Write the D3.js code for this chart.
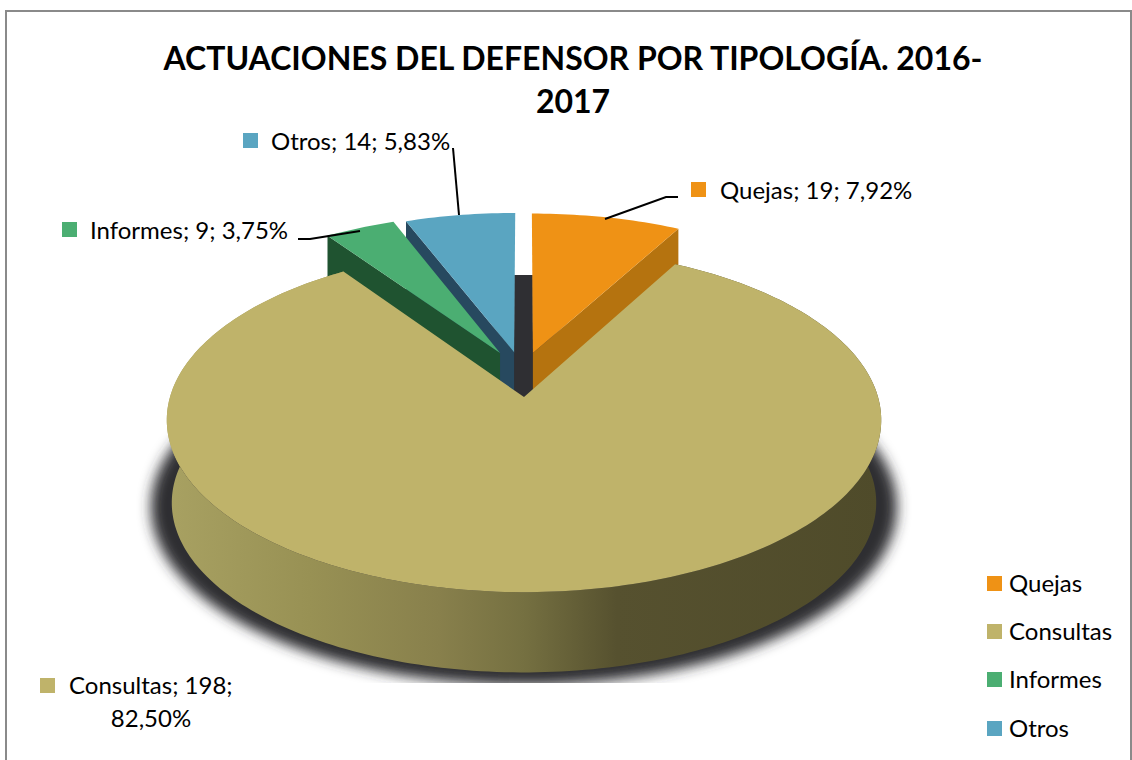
<!DOCTYPE html>
<html lang="es">
<head>
<meta charset="utf-8">
<script src="https://cdn.jsdelivr.net/npm/d3@7/dist/d3.min.js"></script>
<style>
html,body{margin:0;padding:0;background:#fff;overflow:hidden}
svg{display:block}
text{font-family:Lato,"Open Sans",sans-serif;fill:#000}
</style>
</head>
<body>
<svg id="chart" width="1132" height="760"></svg>
<script>
// ---- data ----
const categories = ["Quejas", "Consultas", "Informes", "Otros"];
const values = [19, 198, 9, 14];
const titleLines = ["ACTUACIONES DEL DEFENSOR POR TIPOLOGÍA. 2016-", "2017"];
// ---- styling ----
const topColors = ["#ef9215", "#bfb36a", "#4bae72", "#5aa5c1"];
const wallColors = ["#b5730f", "#8f8850", "#1f5330", "#27495f"];
const explodeU = [0.026, 0, -0.07, -0.029];
const explodeV = [0.27, 0, 0.27, 0.275];
const legendY = [583.5, 631.5, 679.5, 728.5];
const labelMarkers = [[691, 182], [40, 678], [62, 222], [243, 133]];
const labelText = [[720, 199], [69, 694], [90, 239], [271, 150]];
const leaderLines = [
  [[605, 219], [666, 197], [678, 197]],
  [],
  [[298, 239], [310, 239], [360, 231]],
  [[453, 148], [459, 215]]
];
const wallStops = [[0, "#a8a162"], [0.2, "#989154"], [0.38, "#88804c"], [0.5, "#757041"], [0.63, "#56512f"], [1, "#4f4b2a"]];

const svg = d3.select("#chart");
const defs = svg.append("defs");
const total = d3.sum(values);
const fmtPct = v => (v / total * 100).toFixed(2).replace(".", ",") + "%";

// frame
svg.append("rect").attr("x", 6).attr("y", 11).attr("width", 1125).attr("height", 770)
  .attr("fill", "#fff").attr("stroke", "#8a8a8a").attr("stroke-width", 2);

// title
svg.append("g").selectAll("text").data(titleLines).join("text")
  .attr("x", 573).attr("y", (d, i) => 70 + i * 43)
  .attr("text-anchor", "middle").attr("font-size", 32).attr("font-weight", 700)
  .text(d => d);

// ---- pie geometry: d3.pie angles, perspective projection of the disc ----
const arcs = d3.pie().sort(null).value(d => d)(values);
const cx = 524, apexY = 397, rxP = 354, ryP = 169, k = 0.134, depth = 83, bottomScale = 0.986;
function project(u, v, level) {
  const w = 1 + k * v, s = level ? bottomScale : 1;
  return [cx + s * rxP * u / w, apexY + (level ? depth : 0) - s * ryP * v / w];
}
const rimPoints = (a, i, level) => {
  const n = Math.max(4, Math.ceil((a.endAngle - a.startAngle) / 0.02));
  return d3.range(n + 1).map(j => {
    const t = a.startAngle + (a.endAngle - a.startAngle) * j / n;
    return project(explodeU[i] + Math.sin(t), explodeV[i] + Math.cos(t), level);
  });
};
const line = d3.line();
const closed = pts => line(pts) + "Z";
const apex = (i, level) => project(explodeU[i], explodeV[i], level);

// ground shadow
defs.append("filter").attr("id", "soft").attr("x", "-10%").attr("y", "-10%").attr("width", "120%").attr("height", "120%")
  .append("feGaussianBlur").attr("stdDeviation", 6.5);
defs.append("clipPath").attr("id", "shadowClip").append("rect")
  .attr("x", 100).attr("y", 300).attr("width", 850).attr("height", 383);
svg.append("g").attr("clip-path", "url(#shadowClip)")
  .append("ellipse").attr("cx", 524).attr("cy", 507).attr("rx", 373).attr("ry", 178)
  .attr("fill", "#2e2d32").attr("filter", "url(#soft)");

// dark core visible in the gap between the exploded slices
const coreTop = project(0, 0.8, 0)[1];
svg.append("path").attr("fill", "#2f2f33").attr("d", closed([
  [apex(3, 0)[0], coreTop], [apex(0, 0)[0], coreTop],
  [apex(0, 0)[0], apexY + 3], [cx, apexY + 3], [apex(3, 0)[0], apexY + 3]
]));

// exploded slices: side wall (cut edge) then top face
function drawSlice(i, edgeAngle) {
  const a = arcs[i];
  const edge = [explodeU[i] + Math.sin(edgeAngle), explodeV[i] + Math.cos(edgeAngle)];
  const topOuter = project(edge[0], edge[1], 0);
  const wall = [apex(i, 0), topOuter, [topOuter[0], topOuter[1] + depth], [apex(i, 0)[0], apex(i, 0)[1] + depth]];
  svg.append("path").attr("fill", wallColors[i]).attr("d", closed(wall));
  svg.append("path").attr("fill", topColors[i]).attr("d", closed([apex(i, 0), ...rimPoints(a, i, 0)]));
}
drawSlice(3, arcs[3].startAngle);
drawSlice(2, arcs[2].startAngle);
drawSlice(0, arcs[0].endAngle);

// large slice
const grad = defs.append("linearGradient").attr("id", "wallGrad").attr("gradientUnits", "userSpaceOnUse")
  .attr("x1", 167).attr("x2", 881).attr("y1", 0).attr("y2", 0);
grad.selectAll("stop").data(wallStops).join("stop")
  .attr("offset", d => d[0]).attr("stop-color", d => d[1]);
const big = arcs[1];
svg.append("path").attr("fill", "url(#wallGrad)")
  .attr("d", closed([...rimPoints(big, 1, 0), ...rimPoints(big, 1, 1).reverse()]));
svg.append("path").attr("fill", topColors[1])
  .attr("d", closed([apex(1, 0), ...rimPoints(big, 1, 0)]));

// leader lines
svg.append("g").selectAll("path").data(leaderLines.filter(d => d.length)).join("path")
  .attr("d", d => line(d)).attr("fill", "none").attr("stroke", "#000").attr("stroke-width", 2);

// data labels
const labels = svg.append("g");
categories.forEach((c, i) => {
  labels.append("rect").attr("x", labelMarkers[i][0]).attr("y", labelMarkers[i][1])
    .attr("width", 15).attr("height", 15).attr("fill", topColors[i]);
  if (c === "Consultas") {
    labels.append("text").attr("x", labelText[i][0]).attr("y", labelText[i][1]).attr("font-size", 24)
      .text(`${c}; ${values[i]};`);
    labels.append("text").attr("x", 151).attr("y", labelText[i][1] + 33).attr("font-size", 24)
      .attr("text-anchor", "middle").text(fmtPct(values[i]));
  } else {
    labels.append("text").attr("x", labelText[i][0]).attr("y", labelText[i][1]).attr("font-size", 24)
      .text(`${c}; ${values[i]}; ${fmtPct(values[i])}`);
  }
});

// legend
const legend = svg.append("g").selectAll("g").data(categories).join("g")
  .attr("transform", (d, i) => `translate(987,${legendY[i]})`);
legend.append("rect").attr("y", -7.5).attr("width", 15).attr("height", 15).attr("fill", (d, i) => topColors[i]);
legend.append("text").attr("x", 22).attr("y", 8).attr("font-size", 24).text(d => d);
</script>
</body>
</html>
